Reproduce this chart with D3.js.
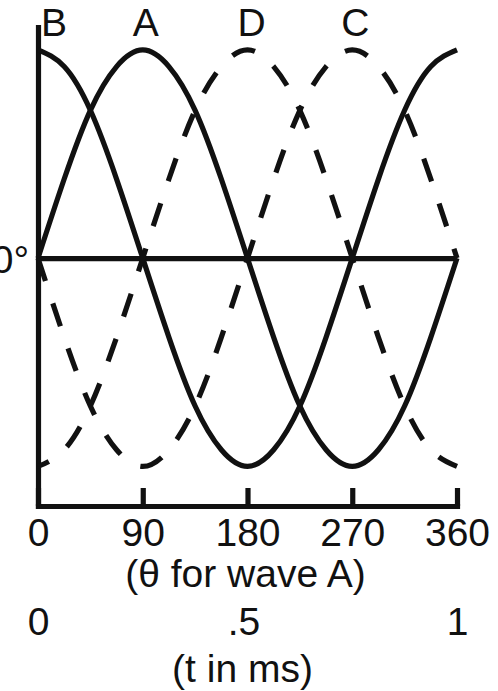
<!DOCTYPE html>
<html>
<head>
<meta charset="utf-8">
<script src="https://cdn.jsdelivr.net/npm/d3@7"></script>
<style>
  html, body { margin: 0; padding: 0; background: #fff; }
  svg { display: block; }
  text { font-family: "Liberation Sans", Arial, sans-serif; fill: #111; }
</style>
</head>
<body>
<svg id="chart" width="498" height="691"></svg>
<script>
// ---- data ----
const angles = [0, 22.5, 45, 67.5, 90, 112.5, 135, 157.5, 180, 202.5, 225, 247.5, 270, 292.5, 315, 337.5, 360];
const waveA = [0, 0.38, 0.71, 0.92, 1, 0.92, 0.71, 0.38, 0, -0.38, -0.71, -0.92, -1, -0.92, -0.71, -0.38, 0];
const waveB = [1, 0.92, 0.71, 0.38, 0, -0.38, -0.71, -0.92, -1, -0.92, -0.71, -0.38, 0, 0.38, 0.71, 0.92, 1];
const waveC = [0, -0.38, -0.71, -0.92, -1, -0.92, -0.71, -0.38, 0, 0.38, 0.71, 0.92, 1, 0.92, 0.71, 0.38, 0];
const waveD = [-1, -0.92, -0.71, -0.38, 0, 0.38, 0.71, 0.92, 1, 0.92, 0.71, 0.38, 0, -0.38, -0.71, -0.92, -1];
const waveNames = ["B", "A", "D", "C"];
const wavePeaks = [0, 90, 180, 270];
const thetaTicks = [0, 90, 180, 270, 360];
const thetaTickLabels = ["0", "90", "180", "270", "360"];
const timeTicks = [0, 0.5, 1];
const timeTickLabels = ["0", ".5", "1"];
const yZeroLabel = "0°";
const thetaTitle = "(θ for wave A)";
const timeTitle = "(t in ms)";
const yExtent = [-1.19, 1.11];

// ---- layout ----
const svg = d3.select("#chart");
const mLeft = 38, mRight = 457, mTop = 27, mBottom = 506;
const FS = 39;
const ink = "#111";
const SW = 5.2;

const x = d3.scaleLinear().domain([0, 360]).range([mLeft, mRight]);
const t = d3.scaleLinear().domain([0, 1]).range([mLeft, mRight]);
const y = d3.scaleLinear().domain(yExtent).range([mBottom, mTop]);

svg.append("rect").attr("width", 498).attr("height", 691).attr("fill", "#fff");

// left axis with zero line
const yAxis = d3.axisLeft(y)
  .tickValues([0])
  .tickFormat(() => yZeroLabel)
  .tickSizeInner(-(x(360) - x(0)))
  .tickSizeOuter(0)
  .tickPadding(9);
const gy = svg.append("g").attr("transform", `translate(${x(0)},0)`).call(yAxis);
gy.select(".domain").attr("stroke", ink).attr("stroke-width", SW).attr("stroke-linecap", "square");
gy.selectAll(".tick line").attr("stroke", ink).attr("stroke-width", SW);
gy.selectAll(".tick text").attr("font-size", FS).attr("font-family", null).attr("fill", ink).attr("dy", "0.36em");

// bottom axis (theta)
const xAxis = d3.axisBottom(x)
  .tickValues(thetaTicks)
  .tickFormat((d, i) => thetaTickLabels[i])
  .tickSizeInner(-18)
  .tickSizeOuter(0)
  .tickPadding(12);
const gx = svg.append("g").attr("transform", `translate(0,${y(yExtent[0])})`).call(xAxis);
gx.select(".domain").attr("stroke", ink).attr("stroke-width", SW).attr("stroke-linecap", "square");
gx.selectAll(".tick line").attr("stroke", ink).attr("stroke-width", SW);
gx.selectAll(".tick text").attr("font-size", FS).attr("font-family", null).attr("fill", ink);

// time axis (labels only)
const tAxis = d3.axisBottom(t)
  .tickValues(timeTicks)
  .tickFormat((d, i) => timeTickLabels[i])
  .tickSize(0)
  .tickPadding(101);
const gt = svg.append("g").attr("transform", `translate(0,${y(yExtent[0])})`).call(tAxis);
gt.select(".domain").remove();
gt.selectAll(".tick text").attr("font-size", FS).attr("font-family", null).attr("fill", ink)
  .attr("dx", (d, i) => i === 1 ? -4 : 0);

// axis titles
svg.append("text").attr("x", x(180) - 2).attr("y", y(yExtent[0]) + 81)
  .attr("text-anchor", "middle").attr("font-size", FS).text(thetaTitle);
svg.append("text").attr("x", x(180) - 5).attr("y", y(yExtent[0]) + 176)
  .attr("text-anchor", "middle").attr("font-size", FS).text(timeTitle);

// waves
const line = d3.line().x((d, i) => x(angles[i])).y(d => y(d)).curve(d3.curveNatural);
const waves = [
  { name: "A", values: waveA, dashed: false, offset: 0 },
  { name: "B", values: waveB, dashed: false, offset: 0 },
  { name: "C", values: waveC, dashed: true, offset: 0 },
  { name: "D", values: waveD, dashed: true, offset: 12 }
];
svg.append("g").selectAll("path").data(waves).join("path")
  .attr("d", d => line(d.values))
  .attr("fill", "none")
  .attr("stroke", ink)
  .attr("stroke-width", SW)
  .attr("stroke-dasharray", d => d.dashed ? "24,23.5" : null)
  .attr("stroke-dashoffset", d => d.dashed ? d.offset : null);

// wave labels
const labelDx = [16, 3, 4, 3];
svg.append("g").selectAll("text").data(waveNames).join("text")
  .attr("x", (d, i) => x(wavePeaks[i]) + labelDx[i])
  .attr("y", y(yExtent[1]) + 9)
  .attr("text-anchor", "middle")
  .attr("font-size", FS)
  .text(d => d);
</script>
</body>
</html>
